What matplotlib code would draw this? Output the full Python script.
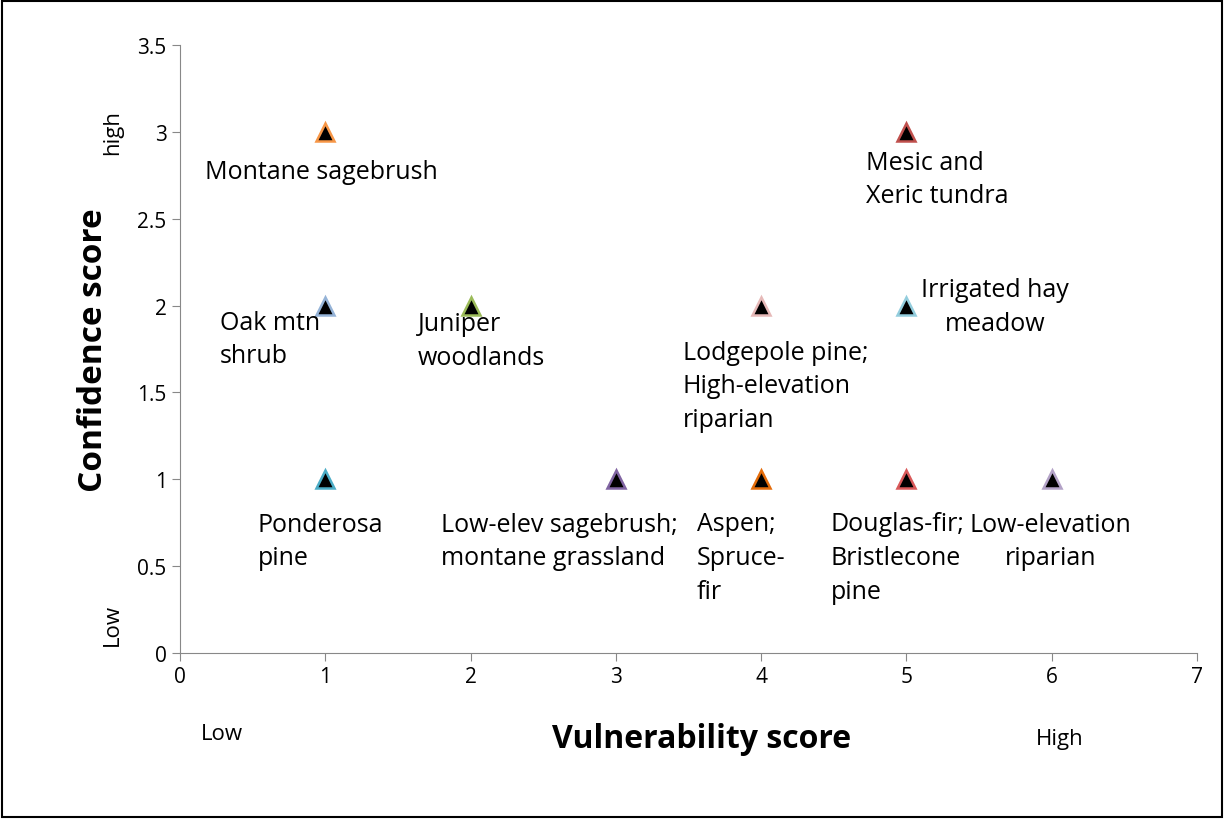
import matplotlib.pyplot as plt
from matplotlib.patches import Rectangle

# vegetation types: vulnerability score, confidence score
names = ["Montane sagebrush", "Mesic and\nXeric tundra", "Oak mtn\nshrub", "Juniper\nwoodlands",
         "Lodgepole pine;\nHigh-elevation\nriparian", "Irrigated hay\nmeadow", "Ponderosa\npine",
         "Low-elev sagebrush;\nmontane grassland", "Aspen;\nSpruce-\nfir", "Douglas-fir;\nBristlecone\npine",
         "Low-elevation\nriparian"]
vuln = [1, 5, 1, 2, 4, 5, 1, 3, 4, 5, 6]
conf = [3, 3, 2, 2, 2, 2, 1, 1, 1, 1, 1]
edge_colors = ["#F79646", "#C0504D", "#95B3D7", "#9BBB59", "#E6B9B8", "#93CDDD",
               "#4BACC6", "#8064A2", "#E46C0A", "#D9595A", "#B3A2C7"]
# label anchor (data coords) and alignment
label_x = [0.172, 4.72, 0.275, 1.638, 3.462, 5.61, 0.537, 1.796, 3.558, 4.48, 5.99]
label_y = [2.769, 2.729, 1.808, 1.80, 1.537, 1.995, 0.645, 0.645, 0.55, 0.55, 0.645]
label_ha = ["left", "left", "left", "left", "left", "center", "left", "left", "left", "left", "center"]

font = "Open Sans"

fig = plt.figure(figsize=(12.24, 8.2), dpi=100)
fig.patches.append(Rectangle((0.002, 0.003), 0.996, 0.994, transform=fig.transFigure,
                             fill=False, edgecolor="black", linewidth=1.5))
ax = fig.add_axes([0.147, 0.2024, 0.831, 0.7416])

for x, y, c in zip(vuln, conf, edge_colors):
    ax.plot(x, y, marker="^", markersize=13, markerfacecolor="black",
            markeredgecolor=c, markeredgewidth=1.8, linestyle="none")

for t, lx, ly, ha in zip(names, label_x, label_y, label_ha):
    ax.text(lx, ly, t, ha=ha, va="center", fontsize=18, family=font, linespacing=1.45)

ax.set_xlim(0, 7)
ax.set_ylim(0, 3.5)
ax.set_xticks(range(8))
ax.set_yticks([0, 0.5, 1, 1.5, 2, 2.5, 3, 3.5])
ax.set_yticklabels(["0", "0.5", "1", "1.5", "2", "2.5", "3", "3.5"])
for s in ["top", "right"]:
    ax.spines[s].set_visible(False)
for s in ["left", "bottom"]:
    ax.spines[s].set_color("#888888")
ax.tick_params(colors="#888888", labelcolor="black", labelsize=15, length=6, direction="out")
for lab in ax.get_xticklabels() + ax.get_yticklabels():
    lab.set_family(font)

ax.set_ylabel("Confidence score", fontsize=24, fontweight="bold", family=font, labelpad=20)
fig.text(0.573, 0.098, "Vulnerability score", fontsize=23, fontweight="bold", family=font,
         ha="center", va="center")
fig.text(0.181, 0.104, "Low", fontsize=16, family=font, ha="center", va="center")
fig.text(0.866, 0.098, "High", fontsize=16, family=font, ha="center", va="center")
fig.text(0.092, 0.838, "high", fontsize=16, family=font, rotation=90, ha="center", va="center")
fig.text(0.092, 0.238, "Low", fontsize=16, family=font, rotation=90, ha="center", va="center")

fig.savefig("out.png", dpi=100)
